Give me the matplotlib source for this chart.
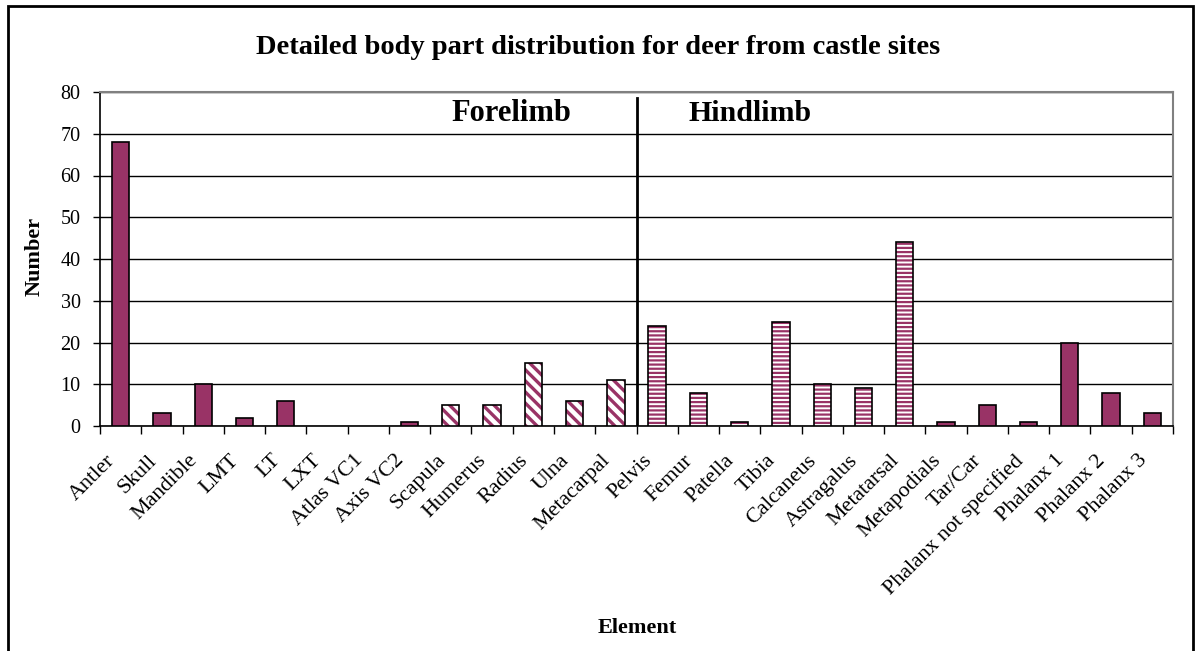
import matplotlib
matplotlib.use("Agg")
import matplotlib.pyplot as plt
from matplotlib.patches import Rectangle
from matplotlib.transforms import ScaledTranslation
import numpy as np

plt.rcParams['font.family'] = ['Liberation Serif', 'DejaVu Serif']
plt.rcParams['hatch.linewidth'] = 2.0

elements = ["Antler", "Skull", "Mandible", "LMT", "LT", "LXT", "Atlas VC1",
            "Axis VC2", "Scapula", "Humerus", "Radius", "Ulna", "Metacarpal",
            "Pelvis", "Femur", "Patella", "Tibia", "Calcaneus", "Astragalus",
            "Metatarsal", "Metapodials", "Tar/Car", "Phalanx not specified",
            "Phalanx 1", "Phalanx 2", "Phalanx 3"]
counts = [68, 3, 10, 2, 6, 0, 0, 1, 5, 5, 15, 6, 11,
          24, 8, 1, 25, 10, 9, 44, 1, 5, 1, 20, 8, 3]
# body region of each element: 'other', 'fore', 'hind'
region = ["other"] * 8 + ["fore"] * 5 + ["hind"] * 7 + ["other"] * 6

PLUM = "#993366"
HATCH = {"fore": ("\\\\\\", 2.4), "hind": ("----", 1.6)}

fig = plt.figure(figsize=(11.98, 6.51), dpi=100)
W, H = 1198, 651
ax = fig.add_axes([100 / W, 1 - 426 / H, (1173 - 100) / W, (426 - 92) / H])

x = np.arange(len(elements))
width = 0.42
for xi, v, r in zip(x, counts, region):
    if v == 0:
        continue
    if r == "other":
        ax.bar(xi, v, width, color=PLUM, edgecolor="black", linewidth=1.2, zorder=3)
    else:
        hatch, hlw = HATCH[r]
        with plt.rc_context({"hatch.linewidth": hlw}):
            ax.bar(xi, v, width, color="white", edgecolor=PLUM, hatch=hatch,
                   linewidth=0, zorder=3)
        ax.bar(xi, v, width, fill=False, edgecolor="black", linewidth=1.2, zorder=4)

ax.set_xlim(-0.5, len(elements) - 0.5)
ax.set_ylim(0, 80)
ax.set_yticks(np.arange(0, 81, 10))
ax.set_xticks(np.arange(-0.5, len(elements), 1.0), minor=True)
ax.set_xticks(x)
ax.set_xticklabels([])
ax.tick_params(axis="x", which="major", length=0)
ax.tick_params(axis="x", which="minor", length=6, width=1, direction="out")
ax.tick_params(axis="y", length=5, width=1, direction="out", labelsize=14.5, pad=9)

# slanted category labels, hung below each category
offset = ScaledTranslation(-15 / 100, -25 / 100, fig.dpi_scale_trans)
for xi, name in zip(x, elements):
    ax.text(xi, 0, name, transform=ax.get_xaxis_transform() + offset,
            rotation=45, ha="right", va="top", rotation_mode="anchor",
            fontsize=15.8)

ax.yaxis.grid(True, color="black", linewidth=1)
ax.set_axisbelow(True)
for s in ("top", "right"):
    ax.spines[s].set_color("#808080")
    ax.spines[s].set_linewidth(1.5)
for s in ("left", "bottom"):
    ax.spines[s].set_color("black")
    ax.spines[s].set_linewidth(1.2)

# divider between forelimb and hindlimb elements
split = region.index("hind") - 0.5
ax.plot([split, split], [0, 78.6], color="black", linewidth=2, zorder=5)
ax.text(9.48, 74.9, "Forelimb", fontsize=22, fontweight="bold", ha="center",
        va="center", zorder=6)
ax.text(15.25, 74.9, "Hindlimb", fontsize=21.5, fontweight="bold", ha="center",
        va="center", zorder=6)

fig.text(34.5 / W, 1 - 256 / H, "Number", fontsize=16, fontweight="bold",
         rotation=90, ha="center", va="center")
fig.text(637 / W, 1 - 628 / H, "Element", fontsize=16, fontweight="bold",
         ha="center", va="center")
fig.text(598 / W, 1 - 47 / H, "Detailed body part distribution for deer from castle sites",
         fontsize=20.5, fontweight="bold", ha="center", va="center")

# outer chart frame
fig.patches.append(Rectangle((8 / W, -0.02), (1193 - 8) / W, 1.02 - 6 / H,
                             transform=fig.transFigure, fill=False,
                             edgecolor="black", linewidth=2))

fig.savefig("out.png", dpi=100)
